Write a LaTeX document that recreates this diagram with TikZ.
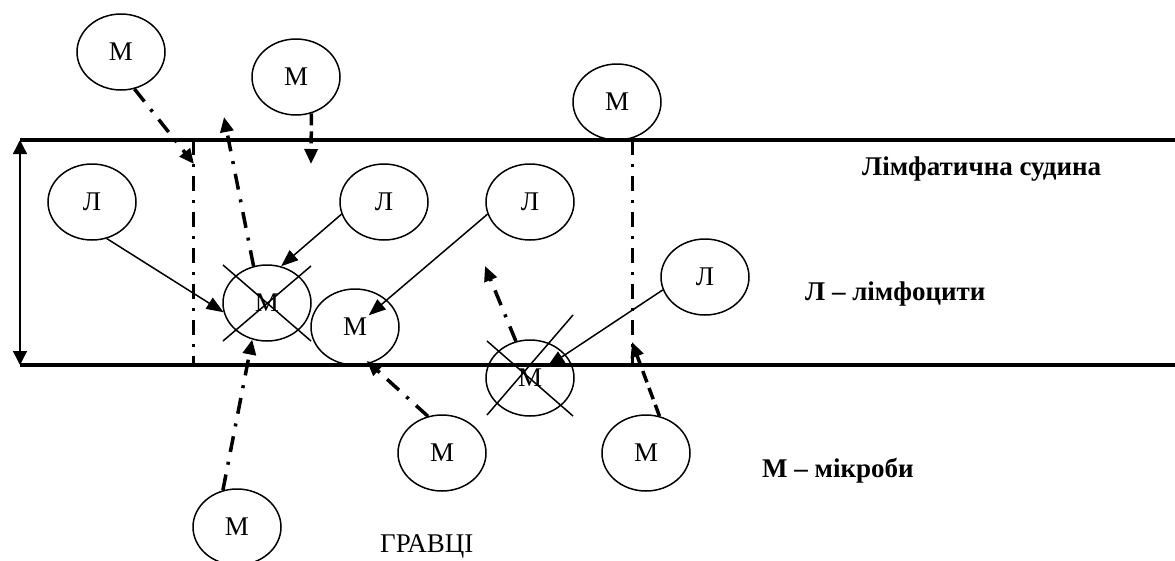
\documentclass[tikz,border=0pt]{standalone}
\usepackage{fontspec}
\setmainfont{Liberation Serif}
\usetikzlibrary{shapes.geometric,arrows.meta,calc}
\begin{document}
\begin{tikzpicture}[x=1pt,y=-1pt,
 cell/.style={ellipse,draw,line width=1.5pt,minimum width=88pt,minimum height=76pt,inner sep=0pt,font=\fontsize{27}{30}\selectfont},
 wall/.style={line width=4.5pt},
 axisline/.style={line width=3pt,dash pattern=on 15pt off 9pt on 3pt off 9pt},
 ddarrow/.style={line width=3.5pt,dash pattern=on 16pt off 10pt on 3pt off 10pt,-{Triangle[length=15pt,width=13pt]}},
 dsarrow/.style={line width=3.5pt,dash pattern=on 12pt off 6pt,-{Triangle[length=15pt,width=13pt]}},
 sarrow/.style={line width=1.5pt,-{Triangle[length=17pt,width=13pt]}},
 crossline/.style={line width=1.5pt},
 legend/.style={anchor=base west,font=\bfseries\fontsize{27}{30}\selectfont,inner sep=0pt},
 plain/.style={anchor=base west,font=\fontsize{27}{30}\selectfont,inner sep=0pt},
]
\useasboundingbox (0,0) rectangle (1175,560);
\begin{scope}
\clip (0,0) rectangle (1175,560);
% vessel
\coordinate (tl) at (20,140);
\coordinate (tr) at (1175,140);
\coordinate (bl) at (20,365);
\coordinate (br) at (1175,365);
\draw[wall] (tl) -- (tr);
\draw[wall] (bl) -- (br);
\draw[line width=1.5pt,{Triangle[length=14pt,width=14pt]}-{Triangle[length=14pt,width=14pt]}] (tl) -- (bl);
\coordinate (v1t) at (193,140);
\coordinate (v1b) at (193,365);
\coordinate (v2t) at (632,140);
\coordinate (v2b) at (632,365);
\draw[axisline] (v1t) -- (v1b);
\draw[axisline] (v2t) -- (v2b);

% cells
\node[cell] (m1) at (121,52) {М};
\node[cell] (m2) at (296,77) {М};
\node[cell] (m3top) at (617,102) {М};
\node[cell] (l1) at (92,202) {Л};
\node[cell] (l2) at (384,202) {Л};
\node[cell] (l3) at (530,202) {Л};
\node[cell] (l4) at (705,277) {Л};
\node[cell] (x1) at (267,303) {М};
\node[cell] (m3) at (355,327) {М};
\node[cell] (x2) at (530,378) {М};
\node[cell] (mb2) at (442,453) {М};
\node[cell] (mb3) at (646,453) {М};
\node[cell] (mb1) at (237,527) {М};

% crosses
\draw[crossline] ($(x1)+(-44,-38)$) -- ($(x1)+(44,38)$);
\draw[crossline] ($(x1)+(44,-37)$) -- ($(x1)+(-44,38)$);
\draw[crossline] ($(x2)+(-43,-37)$) -- ($(x2)+(43,38)$);
\draw[crossline] ($(x2)+(43,-63)$) -- ($(x2)+(-43,37)$);

% free ends
\coordinate (ea) at (194,164);
\coordinate (eb) at (224,117);
\coordinate (ec) at (311,164);
\coordinate (ej) at (485,266);
\coordinate (ek) at (632,342);

% dash-dot arrows
\draw[ddarrow] (m1.-70) -- (ea);
\draw[ddarrow] (x1.110) -- (eb);
\draw[dsarrow] (m2.-67) -- (ec);
\draw[ddarrow] (mb1.111) -- (x1.-112);
\draw[ddarrow,shorten >=-4pt] (mb2.111) -- (m3.-68);
\draw[ddarrow] (x2.111) -- (ej);
\draw[dsarrow] (mb3.70) -- (ek);

% solid arrows
\draw[sarrow] (l1.-68) -- (x1.192);
\draw[sarrow] (l2.196) -- (x1.69);
\draw[sarrow,shorten >=18pt] (l3.196) -- (m3.center);
\draw[sarrow,shorten >=21pt] (l4.197) -- (x2.center);

% legend
\node[legend] (lg1) at (862,175) {Лімфатична судина};
\node[legend] (lg2) at (805,300) {Л – лімфоцити};
\node[legend] (lg3) at (762,477) {М – мікроби};
\node[plain] (gr) at (380,552) {ГРАВЦІ};
\end{scope}
\end{tikzpicture}
\end{document}
